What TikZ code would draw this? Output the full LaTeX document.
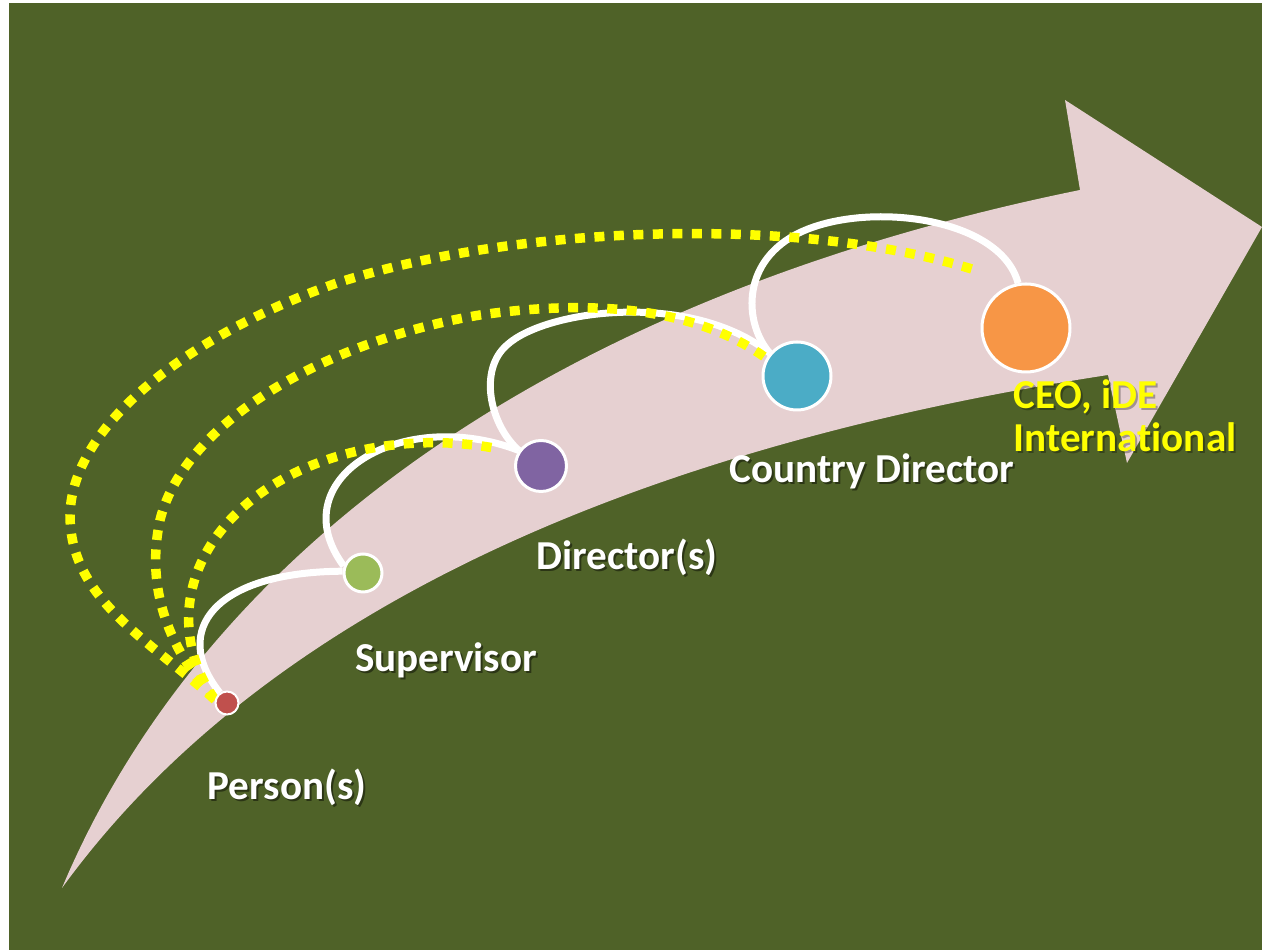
\documentclass[tikz,border=0pt]{standalone}
\usepackage{fontspec}
\setmainfont{Carlito}[Ligatures=NoCommon]
\usetikzlibrary{backgrounds}
\definecolor{slidegreen}{HTML}{4F6228}
\definecolor{bandpink}{HTML}{E6D0D1}
\definecolor{trailyellow}{HTML}{FFFF00}
\definecolor{personred}{HTML}{C0504D}
\definecolor{supervisorgreen}{HTML}{9BBB59}
\definecolor{directorpurple}{HTML}{8064A2}
\definecolor{countryteal}{HTML}{4BACC6}
\definecolor{ceoorange}{HTML}{F79646}

\begin{document}
\begin{tikzpicture}[
        x=0.1mm, y=-0.1mm,
        band/.style={fill=bandpink},
        link/.style={draw=white, line width=0.7mm},
        trail/.style={draw=trailyellow, line width=0.95mm, dash pattern=on 1mm off 0.95mm},
        dot/.style={circle, draw=white, line width=0.3mm, inner sep=0pt},
        tag/.style={font=\bfseries\fontsize{11.7}{12.5}\selectfont, text=white,
                    inner sep=0pt, anchor=base},
        tagshadow/.style={tag, text=black, text opacity=0.45, xshift=0.2mm, yshift=-0.2mm},
    ]

    \useasboundingbox (0,0) rectangle (1262,950);

    % ---------- Steps along the arrow ------------------------------------
    \node[dot, fill=personred, minimum size=2.3mm, line width=0.2mm] (person) at (227,703) {};
    \node[dot, fill=supervisorgreen, minimum size=3.8mm] (supervisor) at (363,573) {};
    \node[dot, fill=directorpurple, minimum size=5.1mm] (director) at (541,466) {};
    \node[dot, fill=countryteal, minimum size=6.8mm] (country) at (797,376) {};
    \node[dot, fill=ceoorange, minimum size=8.8mm] (ceo) at (1026,328) {};

    % ---------- Titles ---------------------------------------------------
    \foreach \nm/\lx/\ly/\txt in {personlabel/287/800/Person(s),
                                  supervisorlabel/446/672/Supervisor,
                                  directorlabel/627/570/Director(s),
                                  countrylabel/872/483/Country Director}{
        \node[tagshadow] at (\lx,\ly) {\txt};
        \node[tag] (\nm) at (\lx,\ly) {\txt};
    }
    % base of a two-line node sits on its last line
    \node[tagshadow, text=black, text opacity=0.3, align=left, anchor=base west] at (1013,452) {CEO, iDE\\International};
    \node[tag, text=trailyellow, align=left, anchor=base west] (ceolabel) at (1013,452) {CEO, iDE\\International};

    \coordinate (trailend) at (975,270);

    \begin{pgfonlayer}{background}
        % slide
        \fill[white] (0,0) rectangle (1262,950);
        \fill[slidegreen] (9,3) rectangle (1262,950);

        % big curved arrow
        \fill[band] (62,888) .. controls (200,560) and (540,300) .. (1080,190)
            -- (1065,100) -- (1262,227) -- (1127,463) -- (1108,375)
            .. controls (750,430) and (300,560) .. (62,888) -- cycle;

        % ---------- hops from step to step -------------------------------
        \draw[link] (person.125) .. controls (170,630) and (215,572) .. (supervisor.175);
        \draw[link] (supervisor.160) .. controls (280,480) and (400,405) .. (director.145);
        \draw[link] (director.145) .. controls (490,425) and (478,370) .. (507,345)
            .. controls (545,310) and (690,290) .. (country.140);
        \draw[link] (country.140) .. controls (745,325) and (740,265) .. (795,235)
            .. controls (860,200) and (1000,215) .. (ceo.100);

        % ---------- direct lines from the person -------------------------
        \draw[trail, shorten >=2mm] (person.165) .. controls (180,650) and (175,580) .. (230,520)
            .. controls (290,455) and (400,430) .. (director.150);
        \draw[trail] (person.165) .. controls (170,650) and (145,590) .. (160,520)
            .. controls (185,420) and (330,340) .. (480,315)
            .. controls (600,298) and (700,310) .. (country.150);
        \draw[trail] (person.165) .. controls (150,640) and (70,600) .. (70,515)
            .. controls (72,420) and (200,330) .. (340,282)
            .. controls (520,225) and (800,215) .. (trailend);
    \end{pgfonlayer}

\end{tikzpicture}
\end{document}
